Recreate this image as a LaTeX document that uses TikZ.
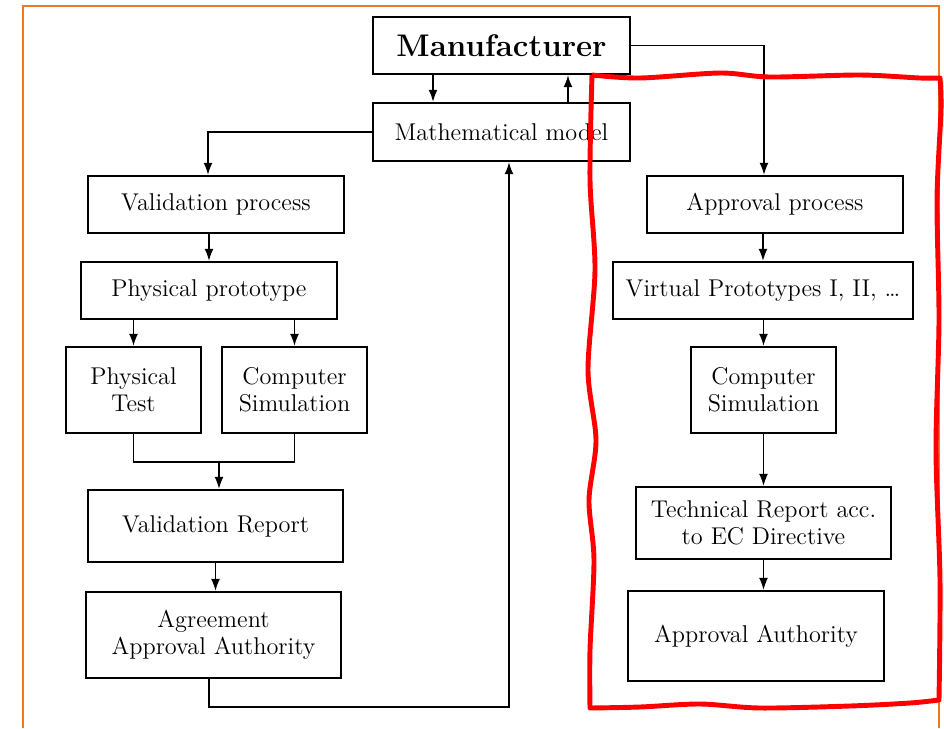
\documentclass[tikz,border=0pt]{standalone}
\usepackage{amsmath}
\usepackage{tikz}
\usetikzlibrary{arrows.meta}

\definecolor{frameorange}{RGB}{237,120,35}

\tikzset{
    flowbox/.style={draw, line width=1.3pt, align=center, inner sep=2pt,
        font=\fontsize{13.8}{15.5}\selectfont},
    arr/.style={line width=0.9pt, -{Latex[length=2.4mm,width=1.8mm]}},
    link/.style={line width=0.9pt}
}

\begin{document}
\begin{tikzpicture}[x=0.02cm, y=-0.02cm]
            \useasboundingbox (0, 0) rectangle (944, 728);
            \draw[frameorange, line width=1.1pt] (23, 728) -- (23, 6) -- (939, 6) -- (939, 728);

            \node[flowbox, minimum width=5.14cm, minimum height=1.14cm,
                font=\fontsize{17.8}{20}\selectfont\bfseries] (manu) at (501.5, 45.5) {Manufacturer};
            \node[flowbox, minimum width=5.14cm, minimum height=1.16cm] (math) at (501.5, 132) {Mathematical model};

            \node[flowbox, minimum width=5.12cm, minimum height=1.14cm] (valp) at (216, 204.5) {Validation process};
            \node[flowbox, minimum width=5.12cm, minimum height=1.14cm] (phys) at (209, 290.5) {Physical prototype};
            \node[flowbox, minimum width=2.7cm, minimum height=1.72cm] (ptest) at (133.5, 390) {Physical\\Test};
            \node[flowbox, minimum width=2.9cm, minimum height=1.72cm] (csim) at (294.5, 390) {Computer\\Simulation};
            \node[flowbox, minimum width=5.1cm, minimum height=1.44cm] (vrep) at (215.5, 526) {Validation Report};
            \node[flowbox, minimum width=5.1cm, minimum height=1.72cm] (agree) at (213.5, 635) {Agreement\\Approval Authority};

            \node[flowbox, minimum width=5.12cm, minimum height=1.14cm] (appr) at (775, 204.5) {Approval process};
            \node[flowbox, minimum width=6cm, minimum height=1.14cm] (virt) at (763, 290.5) {Virtual Prototypes I, II, \dots};
            \node[flowbox, minimum width=2.9cm, minimum height=1.72cm] (csimb) at (763.5, 390) {Computer\\Simulation};
            \node[flowbox, minimum width=5.1cm, minimum height=1.44cm] (tech) at (763.5, 523) {Technical Report acc.\\to EC Directive};
            \node[flowbox, minimum width=5.12cm, minimum height=1.8cm] (auth) at (756, 636) {Approval Authority};

            \draw[arr] ([xshift=-1.37cm]manu.south) -- ([xshift=-1.37cm]math.north);
            \draw[arr] ([xshift=1.33cm]math.north) -- ([xshift=1.33cm]manu.south);
            \draw[arr] (math.west) -| ([xshift=-0.16cm]valp.north);
            \draw[arr] (valp.south -| phys.north) -- (phys.north);
            \draw[arr] (phys.south -| ptest.north) -- (ptest.north);
            \draw[arr] (phys.south -| csim.north) -- (csim.north);
            \draw[link] (ptest.south) -- ++(0, 28) coordinate (mrg) -| (csim.south);
            \draw[arr] ([xshift=0.07cm]mrg -| vrep.north) -- ([xshift=0.07cm]vrep.north);
            \draw[arr] (vrep.south) -- (vrep.south |- agree.north);
            \draw[arr] ([xshift=-0.09cm]agree.south) -- ++(0, 28) -| ([xshift=0.15cm]math.south);

            \draw[arr] (manu.east) -| ([xshift=-0.22cm]appr.north);
            \draw[arr] (appr.south -| virt.north) -- (virt.north);
            \draw[arr] (virt.south -| csimb.north) -- (csimb.north);
            \draw[arr] (csimb.south) -- (tech.north);
            \draw[arr] (tech.south) -- (tech.south |- auth.north);

            \draw[red, line width=2.8pt, line join=round]
                plot[smooth, tension=0.5] coordinates {
                    (592, 75) (640, 78) (720, 73) (770, 77) (860, 75) (920, 78) (940, 78)}
                -- plot[smooth, tension=0.5] coordinates {
                    (940, 78) (941, 110) (937, 200) (939, 320) (936, 450) (940, 580) (939, 700)}
                -- plot[smooth, tension=0.5] coordinates {
                    (939, 700) (910, 703) (850, 706) (760, 708) (700, 704) (640, 707) (590, 708)}
                -- plot[smooth, tension=0.5] coordinates {
                    (590, 708) (590, 650) (594, 560) (589, 500) (596, 440) (588, 370)
                    (595, 270) (590, 180) (592, 75)};
        \end{tikzpicture}
\end{document}
